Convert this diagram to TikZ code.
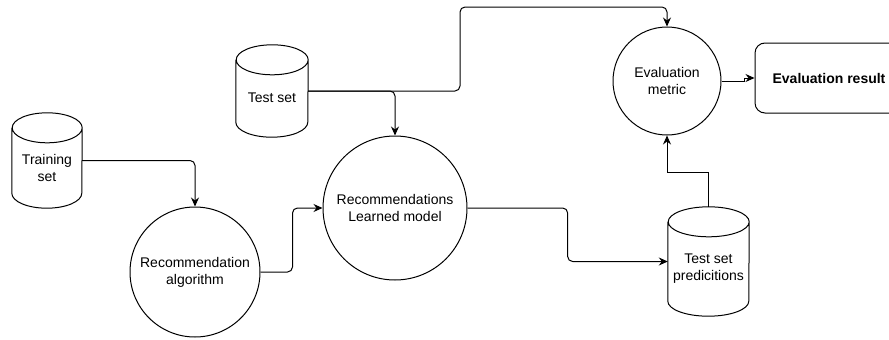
\documentclass[tikz,border=0pt]{standalone}
\usepackage{fontspec}
\setmainfont{Liberation Sans}
\usetikzlibrary{arrows.meta,calc}

% outline of a data-store cylinder drawn around a named node
% #1 node name, #2 half width, #3 cap depth
\newcommand\storeoutline[3]{%
  \draw[edge] ([yshift=-#3]#1.north west) -- ([yshift=#3]#1.south west)
    arc[start angle=180,end angle=360,x radius=#2,y radius=#3]
    -- ([yshift=-#3]#1.north east)
    arc[start angle=0,end angle=180,x radius=#2,y radius=#3]
    arc[start angle=180,end angle=360,x radius=#2,y radius=#3];
}

\begin{document}
\begin{tikzpicture}[x=1pt,y=-1pt,
  every node/.style={font=\fontsize{14pt}{17pt}\selectfont, text=black},
  edge/.style={line width=1pt, draw=black},
  flow/.style={edge, rounded corners=5pt, -{Stealth[length=9pt,width=8pt,inset=3pt]}},
  flowsharp/.style={edge, -{Stealth[length=9pt,width=8pt,inset=3pt]}},
  proc/.style={circle, edge, align=center, inner sep=0pt},
  store/.style={rectangle, inner sep=0pt},
  storetext/.style={align=center, inner sep=0pt, yshift=-7pt},
  result/.style={rectangle, edge, rounded corners=10pt, inner sep=0pt,
    font=\fontsize{14pt}{17pt}\selectfont\bfseries}]

\clip (0,0) rectangle (889,340);
\useasboundingbox (0,0) rectangle (889,340);

% data stores
\node[store, minimum width=70pt, minimum height=95pt,
  label={[storetext]center:Training\\set}] (train) at (47,160.5) {};
\storeoutline{train}{35pt}{15pt}

\node[store, minimum width=72pt, minimum height=92pt,
  label={[storetext]center:Test set}] (test) at (272,91) {};
\storeoutline{test}{36pt}{15pt}

\node[store, minimum width=81pt, minimum height=109pt,
  label={[storetext]center:Test set\\predicitions}] (pred) at (708.5,261.5) {};
\storeoutline{pred}{40.5pt}{15pt}

% processes
\node[proc, minimum size=130pt] (alg) at (195,272) {Recommendation\\algorithm};
\node[proc, minimum size=144pt] (model) at (395,208) {Recommendations\\Learned model};
\node[proc, minimum size=108pt] (metric) at (667,81) {Evaluation\\metric};

% output
\node[result, minimum width=148pt, minimum height=70pt] (res) at (829,78) {Evaluation result};

% waypoint for the long connector over the top
\coordinate (over) at (460,7);

% connectors
\draw[flow] (train.east) -| (alg.north);
\draw[flow] (alg.east) -| ([xshift=-30pt]model.west) -- (model.west);
\draw[flow] (test.east) -| (model.north);
\draw[flow] (test.east) -| (over) -| (metric.north);
\draw[flow] (model.east) -| ($(model.east)!0.5!(pred.west)$) |- (pred.west);
\draw[flowsharp] (pred.north) -- ++(0,-34) -| (metric.south);
\draw[flowsharp] (metric.east) -| ([xshift=-10pt]res.west) |- (res.west);

\end{tikzpicture}
\end{document}
